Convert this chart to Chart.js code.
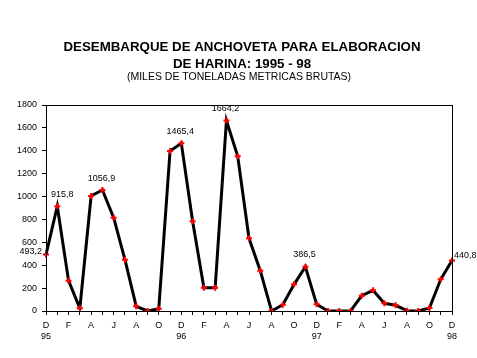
<!DOCTYPE html>
<html>
<head>
<meta charset="utf-8">
<script src="https://cdn.jsdelivr.net/npm/chart.js@4/dist/chart.umd.min.js"></script>
<style>
html,body{margin:0;padding:0;background:#fff;}
canvas{display:block;}
</style>
</head>
<body>
<canvas id="c" width="477" height="358"></canvas>
<script>
// Months Dec 1995 .. Dec 1998 (Spanish initials)
const months = ['D','E','F','M','A','M','J','J','A','S','O','N',
                'D','E','F','M','A','M','J','J','A','S','O','N',
                'D','E','F','M','A','M','J','J','A','S','O','N','D'];
const yearLabels = {0:'95', 12:'96', 24:'97', 36:'98'};
const landings = [493.2, 915.8, 265, 23, 1005, 1056.9, 815, 448, 41, 0, 20, 1398,
                  1465.4, 784, 204, 204, 1664.2, 1352, 635, 352, 0, 55, 233, 386.5,
                  58, 0, 0, 0, 134, 181, 67, 50, 3, 0, 26, 277, 440.8];
const labelledPoints = {0:'493,2', 1:'915,8', 5:'1056,9', 12:'1465,4', 16:'1664,2', 23:'386,5', 36:'440,8'};
const yTicks = {min:0, max:1800, step:200};
const titleLines = ['DESEMBARQUE DE ANCHOVETA PARA ELABORACION', 'DE HARINA: 1995 - 98'];
const subtitleText = '(MILES DE TONELADAS METRICAS BRUTAS)';

const FONT = '"Liberation Sans", Arial, sans-serif';

const decor = {
  id: 'decor',
  beforeDraw(chart) {
    const ctx = chart.ctx;
    ctx.save();
    ctx.fillStyle = '#fff';
    ctx.fillRect(0, 0, chart.width, chart.height);
    ctx.restore();
  },
  afterDraw(chart) {
    const ctx = chart.ctx;
    const a = chart.chartArea;
    ctx.save();
    ctx.strokeStyle = '#000';
    ctx.lineWidth = 1;
    ctx.strokeRect(Math.round(a.left) + 0.5, Math.round(a.top) + 0.5,
                   Math.round(a.right - a.left), Math.round(a.bottom - a.top));
    // titles
    ctx.fillStyle = '#000';
    ctx.textAlign = 'center';
    ctx.textBaseline = 'alphabetic';
    ctx.font = 'bold 13.3px ' + FONT;
    ctx.fillText(titleLines[0], 242, 51);
    ctx.fillText(titleLines[1], 242, 67.5);
    ctx.font = '10.5px ' + FONT;
    ctx.fillText(subtitleText, 239, 80);
    // data labels
    const meta = chart.getDatasetMeta(0);
    ctx.font = '9px ' + FONT;
    ctx.textBaseline = 'middle';
    for (const k in labelledPoints) {
      const i = +k;
      const p = meta.data[i];
      const txt = labelledPoints[k];
      if (i === 0) {
        ctx.textAlign = 'right';
        ctx.fillText(txt, p.x - 4, p.y - 3);
      } else if (i === months.length - 1) {
        ctx.textAlign = 'left';
        ctx.fillText(txt, p.x + 2, p.y - 5);
      } else {
        ctx.textAlign = 'center';
        ctx.fillText(txt, p.x + (i === 1 ? 5 : -1), p.y - 12);
      }
    }
    ctx.restore();
  }
};

new Chart(document.getElementById('c'), {
  type: 'line',
  data: {
    labels: months,
    datasets: [{
      data: landings,
      borderColor: '#000',
      borderWidth: 3,
      tension: 0,
      fill: false,
      pointStyle: 'cross',
      pointRadius: 3,
      pointBorderWidth: 2,
      pointBorderColor: '#ff0000',
      pointBackgroundColor: '#ff0000'
    }]
  },
  options: {
    responsive: false,
    animation: false,
    devicePixelRatio: 1,
    layout: {padding: {top: 105, right: 25, bottom: 0, left: 0}},
    plugins: {legend: {display: false}, tooltip: {enabled: false}, title: {display: false}},
    scales: {
      x: {
        type: 'category',
        offset: false,
        grid: {drawOnChartArea: false, drawTicks: true, tickLength: 4, color: '#000'},
        border: {display: true, color: '#000', width: 1},
        ticks: {
          autoSkip: false, maxRotation: 0, minRotation: 0, padding: 5,
          color: '#000',
          font: {family: FONT, size: 9, lineHeight: 1.25},
          callback: function(v, i) {
            if (i % 2 !== 0) return '';
            if (yearLabels[i] !== undefined) return [months[i], yearLabels[i]];
            return months[i];
          }
        },
        afterFit: s => { s.height = 47; }
      },
      y: {
        min: yTicks.min, max: yTicks.max,
        grid: {drawOnChartArea: false, drawTicks: true, tickLength: 4, color: '#000'},
        border: {display: true, color: '#000', width: 1},
        ticks: {stepSize: yTicks.step, padding: 5, color: '#000', font: {family: FONT, size: 9},
                callback: v => String(v)},
        afterFit: s => { s.width = 46; }
      }
    }
  },
  plugins: [decor]
});
</script>
</body>
</html>
